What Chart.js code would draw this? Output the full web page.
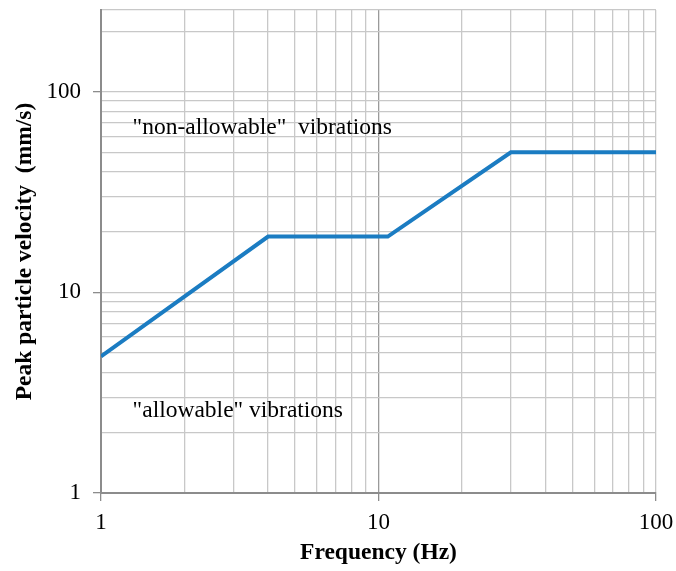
<!DOCTYPE html>
<html>
<head>
<meta charset="utf-8">
<script src="https://cdn.jsdelivr.net/npm/chart.js@4"></script>
<style>
  body { margin: 0; background: #fff; }
  #wrap { width: 676px; height: 571px; }
</style>
</head>
<body>
<div id="wrap"><canvas id="vib_canvas"></canvas></div>
<script>
// limit curve (Hz, mm/s)
const freqs = [1, 4, 10.8, 30, 100];
const velocities = [4.8, 19, 19, 50, 50];

// grid lines and labels
const xGrid = [1, 2, 3, 4, 5, 6, 7, 8, 9, 10, 20, 30, 40, 50, 60, 70, 80, 90, 100];
const yGrid = [1, 2, 3, 4, 5, 6, 7, 8, 9, 10, 20, 30, 40, 50, 60, 70, 80, 90, 100, 200, 256];
const xLabels = [1, 10, 100];
const yLabels = [1, 10, 100];

// region notes
const noteTexts = ['"non-allowable"  vibrations', '"allowable" vibrations'];
const noteX = [1.3, 1.3];
const noteY = [66, 2.56];

const SERIF = '"Liberation Serif", "Times New Roman", serif';

const notesPlugin = {
    id: 'notes',
    afterDatasetsDraw(chart) {
        const ctx = chart.ctx;
        const xs = chart.scales.x, ys = chart.scales.y;
        ctx.save();
        ctx.font = '23.5px ' + SERIF;
        ctx.fillStyle = '#000';
        ctx.textAlign = 'left';
        ctx.textBaseline = 'middle';
        noteTexts.forEach(function (t, i) {
            ctx.fillText(t, xs.getPixelForValue(noteX[i]), ys.getPixelForValue(noteY[i]));
        });
        ctx.restore();
    }
};

function axisOpts(grid, labels, isX) {
    return {
        type: 'logarithmic',
        min: 1,
        max: grid[grid.length - 1],
        afterBuildTicks: function (scale) {
            scale.ticks = grid.map(function (v) { return { value: v }; });
        },
        afterFit: function (scale) {
            if (isX) scale.height = 78; else scale.width = 101;
            // let layout.padding alone decide the plot edges
            scale.paddingTop = 0;
            scale.paddingBottom = 0;
            scale.paddingLeft = 0;
            scale.paddingRight = 0;
        },
        border: { color: '#8c8c8c', width: 2 },
        grid: {
            color: function (c) {
                if (isX && c.tick && c.tick.value === 10) return '#9a9a9a';
                return '#c8c8c8';
            },
            lineWidth: 1.3,
            tickLength: 8,
            tickColor: function (c) {
                return (c.tick && labels.indexOf(c.tick.value) >= 0) ? '#8c8c8c' : 'rgba(0,0,0,0)';
            }
        },
        ticks: {
            autoSkip: false,
            maxRotation: 0,
            padding: isX ? 8 : 12,
            color: '#000',
            font: { family: SERIF, size: 23 },
            callback: function (v) {
                return labels.indexOf(v) >= 0 ? String(v) : '';
            }
        },
        title: {
            display: true,
            text: isX ? 'Frequency (Hz)' : 'Peak particle velocity  (mm/s)',
            color: '#000',
            font: { family: SERIF, size: 23.5, weight: 'bold' },
            padding: isX ? { top: 0, bottom: 4 } : { top: 11, bottom: 0 }
        }
    };
}

const config = {
    type: 'line',
    data: {
        datasets: [{
            label: 'limit',
            data: freqs.map(function (f, i) { return { x: f, y: velocities[i] }; }),
            borderColor: '#1b7cc2',
            borderWidth: 4,
            pointRadius: 0,
            tension: 0,
            fill: false
        }]
    },
    options: {
        responsive: true,
        maintainAspectRatio: false,
        animation: false,
        layout: { padding: { top: 10, right: 20, left: 0, bottom: 0 } },
        plugins: {
            legend: { display: false },
            tooltip: { enabled: false }
        },
        scales: {
            x: axisOpts(xGrid, xLabels, true),
            y: axisOpts(yGrid, yLabels, false)
        }
    },
    plugins: [notesPlugin]
};

var ctx_vib = document.getElementById('vib_canvas').getContext('2d');
var vib_chart = new Chart(ctx_vib, config);
</script>
</body>
</html>
